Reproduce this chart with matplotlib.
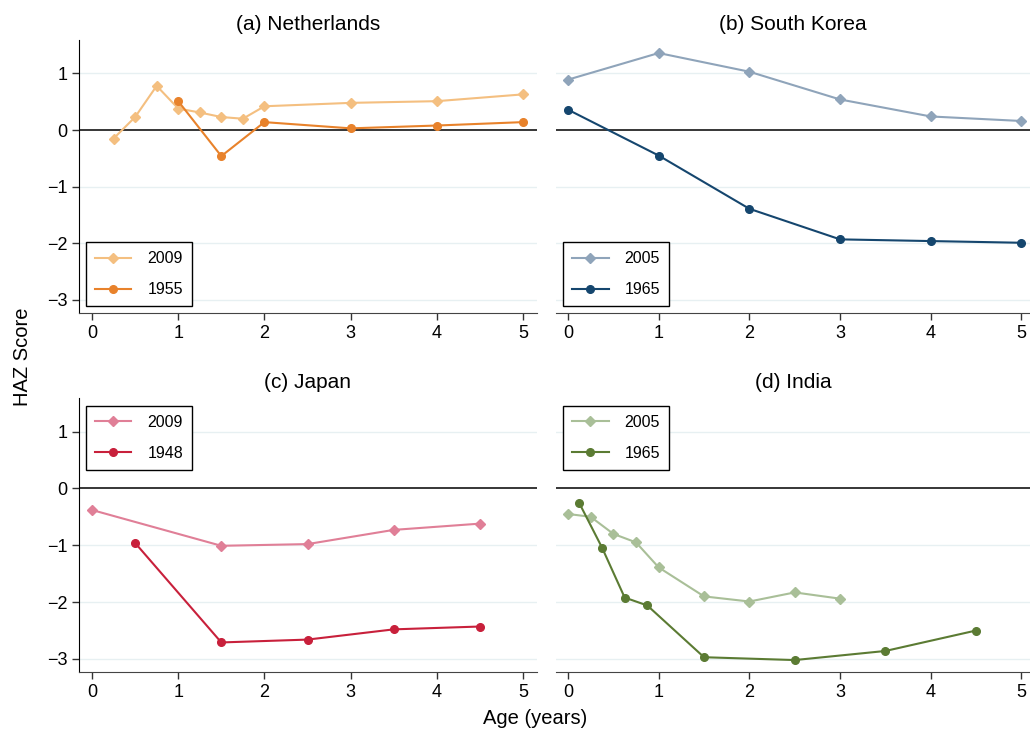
import numpy as np
import matplotlib.pyplot as plt

plt.rcParams['font.family'] = ['Liberation Sans', 'DejaVu Sans']

### Data (age in years, HAZ score)
nl_new_label, nl_old_label = '2009', '1955'
nl_new_age = [0.25, 0.5, 0.75, 1.0, 1.25, 1.5, 1.75, 2, 3, 4, 5]
nl_new_haz = [-0.15, 0.23, 0.78, 0.38, 0.31, 0.23, 0.20, 0.42, 0.48, 0.51, 0.63]
nl_old_age = [1, 1.5, 2, 3, 4, 5]
nl_old_haz = [0.51, -0.46, 0.14, 0.03, 0.08, 0.14]

kr_new_label, kr_old_label = '2005', '1965'
kr_new_age = [0, 1, 2, 3, 4, 5]
kr_new_haz = [0.89, 1.36, 1.03, 0.54, 0.24, 0.16]
kr_old_age = [0, 1, 2, 3, 4, 5]
kr_old_haz = [0.36, -0.45, -1.39, -1.93, -1.96, -1.99]

jp_new_label, jp_old_label = '2009', '1948'
jp_new_age = [0, 1.5, 2.5, 3.5, 4.5]
jp_new_haz = [-0.38, -1.01, -0.98, -0.73, -0.62]
jp_old_age = [0.5, 1.5, 2.5, 3.5, 4.5]
jp_old_haz = [-0.96, -2.71, -2.66, -2.48, -2.43]

in_new_label, in_old_label = '2005', '1965'
in_new_age = [0, 0.25, 0.5, 0.75, 1.0, 1.5, 2.0, 2.5, 3.0]
in_new_haz = [-0.45, -0.50, -0.80, -0.95, -1.39, -1.90, -1.99, -1.83, -1.94]
in_old_age = [0.125, 0.375, 0.625, 0.875, 1.5, 2.5, 3.5, 4.5]
in_old_haz = [-0.26, -1.04, -1.92, -2.06, -2.97, -3.02, -2.86, -2.50]

panels = [
    ('(a) Netherlands', nl_new_age, nl_new_haz, nl_new_label, '#F4BF80',
     nl_old_age, nl_old_haz, nl_old_label, '#E8822B'),
    ('(b) South Korea', kr_new_age, kr_new_haz, kr_new_label, '#8FA4BA',
     kr_old_age, kr_old_haz, kr_old_label, '#15466E'),
    ('(c) Japan', jp_new_age, jp_new_haz, jp_new_label, '#E07F97',
     jp_old_age, jp_old_haz, jp_old_label, '#C8203B'),
    ('(d) India', in_new_age, in_new_haz, in_new_label, '#A9BF98',
     in_old_age, in_old_haz, in_old_label, '#5B7B33'),
]

W, H = 1030, 732
fig = plt.figure(figsize=(W/100, H/100), dpi=100)

# axes boxes in pixels: left, right, top, bottom
boxes = [(79, 537, 40, 313), (556, 1030, 40, 313),
         (79, 537, 398, 672), (556, 1030, 398, 672)]
xlims = [(-0.151, 5.162), (-0.132, 5.094), (-0.151, 5.162), (-0.132, 5.094)]

for i, (title, xa, ya, la, ca, xb, yb, lb, cb) in enumerate(panels):
    l, r, t, b = boxes[i]
    ax = fig.add_axes([l/W, 1 - b/H, (r - l)/W, (b - t)/H])
    left_col = i % 2 == 0

    for g in [1, -1, -2, -3]:
        ax.axhline(g, color='#E7F0F2', lw=1.0, zorder=0)
    ax.axhline(0, color='black', lw=1.1, zorder=1)

    ax.plot(xa, ya, '-D', color=ca, lw=1.5, ms=5.5, label=la, zorder=3)
    ax.plot(xb, yb, '-o', color=cb, lw=1.5, ms=5.5, label=lb, zorder=4)

    ax.set_xlim(*xlims[i])
    ax.set_ylim(-3.23, 1.59)
    ax.set_xticks(range(6))
    ax.set_yticks([1, 0, -1, -2, -3])
    ax.tick_params(labelsize=13, length=5, width=1, color='#333333')
    ax.set_title(title, fontsize=15, pad=7)

    ax.spines['top'].set_visible(False)
    ax.spines['right'].set_visible(False)
    ax.spines['bottom'].set_color('#444444')
    if left_col:
        ax.spines['left'].set_color('black')
    else:
        ax.spines['left'].set_visible(False)
        ax.tick_params(axis='y', left=False, labelleft=False)

    leg_kw = dict(fontsize=11.5, borderaxespad=0, labelspacing=1.0,
                  handlelength=2.3, handletextpad=1.0, borderpad=0.55,
                  fancybox=False, framealpha=1, edgecolor='black')
    if i < 2:
        leg = ax.legend(loc='lower left', bbox_to_anchor=(0.015, 0.026), **leg_kw)
    else:
        leg = ax.legend(loc='upper left', bbox_to_anchor=(0.015, 0.97), **leg_kw)
    leg.get_frame().set_linewidth(1.0)

fig.text(0.022, 0.512, 'HAZ Score', rotation=90, ha='center', va='center', fontsize=14.5)
fig.text(0.52, 0.018, 'Age (years)', ha='center', va='center', fontsize=14.5)

fig.savefig('out.png', dpi=100)
